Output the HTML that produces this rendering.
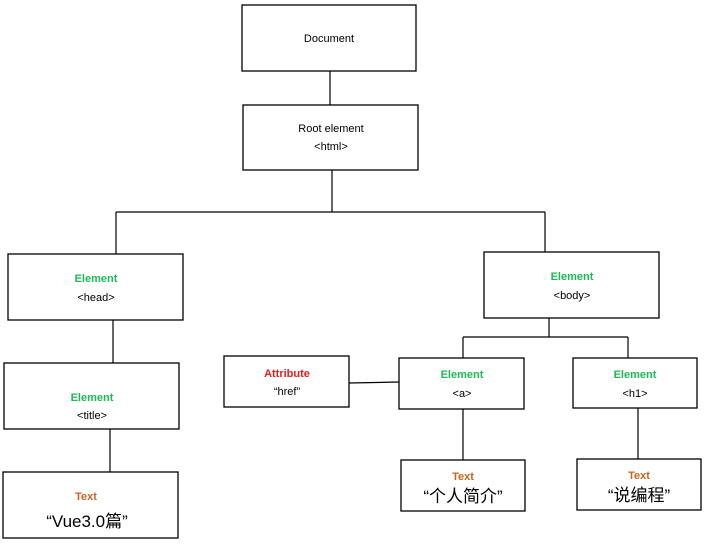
<!DOCTYPE html>
<html><head><meta charset="utf-8"><style>
html,body{margin:0;padding:0;background:#fff;}
svg text{font-family:"Liberation Sans","Noto Sans CJK SC",sans-serif;text-anchor:middle;}
.b{fill:#fff;stroke:#000;stroke-width:1.3;}
.l{stroke:#000;stroke-width:1.2;fill:none;}
.g{fill:#1db954;font-weight:bold;font-size:11px;}
.r{fill:#e81c1c;font-weight:bold;font-size:11px;}
.o{fill:#c8641e;font-weight:bold;font-size:11px;}
.k{fill:#000;font-size:11px;}
.c{fill:#000;font-size:17px;}
</style></head><body>
<svg width="705" height="549" viewBox="0 0 705 549" xmlns="http://www.w3.org/2000/svg">
<path class="l" d="M330 71V105 M332 170V212 M116 212H545 M116 212V254 M545 212V252 M113 320V363 M110 429V472 M549 318V337 M463 337H628 M463 337V358 M628 337V358 M349 383L399 382 M463 409V460 M638 408V459"/>
<rect class="b" x="242" y="5" width="174" height="66"/>
<text class="k" x="329" y="42">Document</text>
<rect class="b" x="243" y="105" width="175" height="65"/>
<text class="k" x="331" y="132">Root element</text>
<text class="k" x="331" y="150">&lt;html&gt;</text>
<rect class="b" x="8" y="254" width="175" height="66"/>
<text class="g" x="96" y="282">Element</text>
<text class="k" x="96" y="301">&lt;head&gt;</text>
<rect class="b" x="484" y="252" width="175" height="66"/>
<text class="g" x="572" y="280">Element</text>
<text class="k" x="572" y="299">&lt;body&gt;</text>
<rect class="b" x="4" y="363" width="175" height="66"/>
<text class="g" x="92" y="401">Element</text>
<text class="k" x="92" y="419">&lt;title&gt;</text>
<rect class="b" x="3" y="472" width="175" height="66"/>
<text class="o" x="86" y="500">Text</text>
<text class="c" x="87" y="527">“Vue3.0篇”</text>
<rect class="b" x="224" y="356" width="125" height="51"/>
<text class="r" x="287" y="377">Attribute</text>
<text class="k" x="287" y="395">“href”</text>
<rect class="b" x="399" y="358" width="125" height="51"/>
<text class="g" x="462" y="378">Element</text>
<text class="k" x="462" y="397">&lt;a&gt;</text>
<rect class="b" x="573" y="358" width="124" height="50"/>
<text class="g" x="635" y="378">Element</text>
<text class="k" x="635" y="397">&lt;h1&gt;</text>
<rect class="b" x="401" y="460" width="124" height="51"/>
<text class="o" x="463" y="480">Text</text>
<text class="c" x="463" y="502">“个人简介”</text>
<rect class="b" x="577" y="459" width="124" height="51"/>
<text class="o" x="639" y="479">Text</text>
<text class="c" x="639" y="501">“说编程”</text>
</svg>
</body></html>
